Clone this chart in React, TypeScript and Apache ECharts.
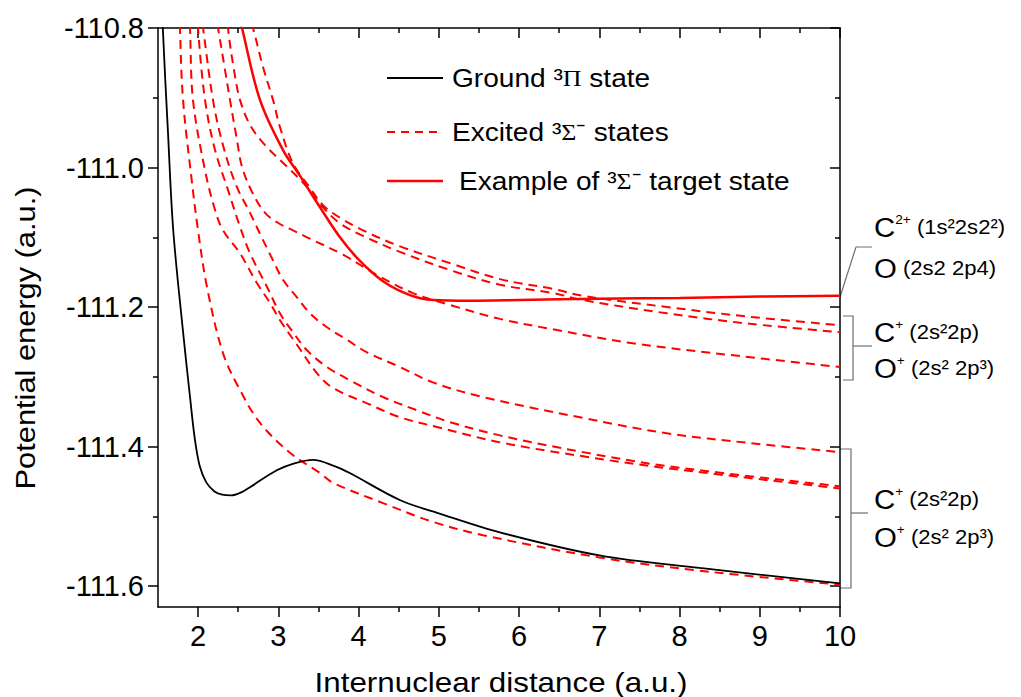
import React, { useEffect, useRef } from "react";
import * as echarts from "echarts";

// ---- tick values ----
const xMajor = [2, 3, 4, 5, 6, 7, 8, 9, 10];
const xMinor = [2.5, 3.5, 4.5, 5.5, 6.5, 7.5, 8.5, 9.5];
const yMajor = [-111.6, -111.4, -111.2, -111.0, -110.8];
const yMinor = [-111.5, -111.3, -111.1, -110.9];

// ---- ground 3Pi state ----
const groundX = [1.54, 1.56, 1.625, 1.69, 1.81, 1.9, 1.96, 2.02, 2.1, 2.2, 2.3, 2.41, 2.55, 2.65, 2.98, 3.2, 3.43, 3.7, 3.89, 4.52, 4.98, 5.76, 7.0, 8.25, 10];
const groundY = [-110.72, -110.8, -110.951, -111.09, -111.233, -111.33, -111.39, -111.428, -111.451, -111.464, -111.469, -111.47, -111.465, -111.458, -111.434, -111.424, -111.419, -111.428, -111.438, -111.477, -111.495, -111.523, -111.556, -111.574, -111.596];

// ---- example 3Sigma- target state (solid red) ----
const targetX = [2.4, 2.547, 2.771, 3.058, 3.27, 3.519, 3.768, 4.017, 4.304, 4.641, 4.927, 5.388, 6.0, 7.0, 8.0, 9.0, 10.0];
const targetY = [-110.731, -110.8, -110.903, -110.975, -111.012, -111.057, -111.1, -111.134, -111.163, -111.183, -111.19, -111.191, -111.19, -111.188, -111.187, -111.185, -111.184];

// ---- excited 3Sigma- states (dashed red) ----
const exAX = [2.51, 2.684, 2.809, 2.933, 3.02, 3.182, 3.394, 3.556, 3.768, 4.055, 4.516, 5.139, 5.762, 6.423, 6.797, 7.843, 8.878, 10];
const exAY = [-110.731, -110.8, -110.856, -110.903, -110.942, -110.994, -111.029, -111.054, -111.072, -111.09, -111.113, -111.137, -111.16, -111.174, -111.184, -111.2, -111.214, -111.226];

const exBX = [2.323, 2.372, 2.447, 2.522, 2.647, 2.834, 3.083, 3.332, 3.556, 3.768, 4.055, 4.516, 5.139, 5.762, 6.423, 6.797, 7.843, 8.878, 10];
const exBY = [-110.731, -110.8, -110.86, -110.903, -110.939, -110.968, -110.996, -111.025, -111.057, -111.08, -111.098, -111.121, -111.147, -111.168, -111.18, -111.19, -111.209, -111.224, -111.236];

const exCX = [2.148, 2.248, 2.335, 2.397, 2.485, 2.547, 2.672, 2.834, 3.02, 3.182, 3.357, 3.806, 4.229, 4.678, 5.139, 5.762, 6.473, 7.42, 8.729, 10];
const exCY = [-110.731, -110.8, -110.86, -110.903, -110.961, -110.999, -111.035, -111.065, -111.081, -111.09, -111.1, -111.125, -111.154, -111.18, -111.197, -111.217, -111.233, -111.252, -111.27, -111.286];

const exDX = [1.974, 2.061, 2.185, 2.31, 2.472, 2.647, 2.796, 2.933, 3.058, 3.232, 3.394, 3.606, 3.855, 4.105, 4.516, 4.927, 5.55, 6.797, 7.843, 8.878, 10];
const exDY = [-110.731, -110.8, -110.903, -110.968, -111.025, -111.065, -111.101, -111.133, -111.161, -111.186, -111.209, -111.229, -111.247, -111.265, -111.286, -111.308, -111.329, -111.359, -111.381, -111.395, -111.408];

const exEX = [1.974, 1.999, 2.086, 2.211, 2.372, 2.522, 2.647, 2.858, 3.02, 3.182, 3.357, 3.606, 3.893, 4.304, 4.728, 5.139, 5.762, 6.797, 7.843, 10];
const exEY = [-110.731, -110.8, -110.903, -110.975, -111.032, -111.085, -111.123, -111.171, -111.209, -111.236, -111.262, -111.286, -111.305, -111.329, -111.348, -111.365, -111.384, -111.408, -111.428, -111.457];

const exFX = [1.874, 1.899, 1.936, 2.086, 2.211, 2.31, 2.522, 2.734, 2.896, 3.02, 3.232, 3.482, 3.681, 4.105, 4.516, 5.014, 5.762, 6.797, 7.843, 10];
const exFY = [-110.731, -110.8, -110.903, -111.004, -111.061, -111.09, -111.123, -111.166, -111.194, -111.219, -111.254, -111.295, -111.316, -111.338, -111.358, -111.373, -111.394, -111.414, -111.431, -111.46];

const exGX = [1.762, 1.774, 1.812, 1.92, 1.999, 2.11, 2.31, 2.522, 2.771, 3.145, 3.519, 3.681, 4.304, 4.927, 5.55, 7.0, 8.25, 10];
const exGY = [-110.731, -110.8, -110.903, -111.018, -111.09, -111.171, -111.266, -111.319, -111.366, -111.409, -111.438, -111.452, -111.481, -111.508, -111.527, -111.559, -111.578, -111.598];

const excited = [
  [exAX, exAY],
  [exBX, exBY],
  [exCX, exCY],
  [exDX, exDY],
  [exEX, exEY],
  [exFX, exFY],
  [exGX, exGY],
];

const pairs = (xs: number[], ys: number[]) => xs.map((x, i) => [x, ys[i]]);

const FONT = "Liberation Sans, Arial, sans-serif";
const RED = "#ff0000";
const axisLine = { color: "#000", width: 1.5 };

function xAx(position: "top" | "bottom", values: number[], length: number, inside: boolean, showLine: boolean, labels: boolean) {
  return {
    type: "value",
    min: 1.5,
    max: 10,
    position,
    axisLine: { show: showLine, onZero: false, lineStyle: axisLine },
    axisTick: { show: true, customValues: values, length, inside, lineStyle: axisLine },
    axisLabel: labels
      ? { show: true, customValues: values, fontSize: 29, fontFamily: FONT, color: "#000", margin: 14 }
      : { show: false },
    splitLine: { show: false },
  };
}

function yAx(position: "left" | "right", values: number[], length: number, inside: boolean, showLine: boolean, labels: boolean) {
  return {
    type: "value",
    min: -111.63,
    max: -110.8,
    position,
    axisLine: { show: showLine, onZero: false, lineStyle: axisLine },
    axisTick: { show: true, customValues: values, length, inside, lineStyle: axisLine },
    axisLabel: labels
      ? {
          show: true,
          customValues: values,
          fontSize: 29,
          fontFamily: FONT,
          color: "#000",
          margin: 14,
          formatter: (v: number) => v.toFixed(1),
        }
      : { show: false },
    splitLine: { show: false },
  };
}

const legendRows = [
  { y: 78, x: 452, stroke: "#000", width: 2, dash: null as null | number[], text: "{t|Ground }{s|³}{g|Π}{t| state}" },
  { y: 132, x: 452, stroke: RED, width: 2, dash: [8, 6], text: "{t|Excited }{s|³}{g|Σ}{s|⁻}{t| states}" },
  { y: 181, x: 459, stroke: RED, width: 2.5, dash: null as null | number[], text: "{t|Example of }{s|³}{g|Σ}{s|⁻}{t| target state}" },
];

const annotations = [
  { y: 227, text: "{c|C}{p|2+}{t| (1s²2s2²)}" },
  { y: 268, text: "{c|O}{t| (2s2 2p4)}" },
  { y: 332, text: "{c|C}{p|+}{t| (2s²2p)}" },
  { y: 368, text: "{c|O}{p|+}{t| (2s² 2p³)}" },
  { y: 499, text: "{c|C}{p|+}{t| (2s²2p)}" },
  { y: 537, text: "{c|O}{p|+}{t| (2s² 2p³)}" },
];

const annRich = {
  c: { fontSize: 28, fontFamily: FONT, fill: "#000" },
  p: { fontSize: 13, fontFamily: FONT, fill: "#000", verticalAlign: "top" },
  t: { fontSize: 21, fontFamily: FONT, fill: "#000" },
};

const legRich = {
  t: { fontSize: 26, fontFamily: FONT, fill: "#000" },
  s: { fontSize: 26, fontFamily: FONT, fill: "#000" },
  g: { fontSize: 24, fontFamily: "Liberation Serif, Times New Roman, serif", fill: "#000" },
};

const bracketStyle = { stroke: "#6e6e6e", lineWidth: 1.2, fill: "none" };

function buildOption() {
  const series: any[] = [];
  excited.forEach(([xs, ys]) => {
    series.push({
      name: "Excited ³Σ⁻ states",
      type: "line",
      data: pairs(xs, ys),
      smooth: 0.35,
      showSymbol: false,
      symbol: "none",
      lineStyle: { color: RED, width: 2, type: [9, 6] },
      z: 2,
    });
  });
  series.push({
    name: "Example of ³Σ⁻ target state",
    type: "line",
    data: pairs(targetX, targetY),
    smooth: 0.35,
    showSymbol: false,
    symbol: "none",
    lineStyle: { color: RED, width: 2.5 },
    z: 3,
  });
  series.push({
    name: "Ground ³Π state",
    type: "line",
    data: pairs(groundX, groundY),
    smooth: 0.35,
    showSymbol: false,
    symbol: "none",
    lineStyle: { color: "#000", width: 1.8 },
    z: 4,
  });

  const graphic: any[] = [];
  legendRows.forEach((r) => {
    graphic.push({
      type: "line",
      shape: { x1: 387, y1: r.y, x2: 443, y2: r.y },
      style: { stroke: r.stroke, lineWidth: r.width, lineDash: r.dash || undefined },
    });
    graphic.push({
      type: "text",
      x: r.x,
      y: r.y,
      scaleX: 1.08,
      style: { text: r.text, rich: legRich, align: "left", verticalAlign: "middle", textAlign: "left", textVerticalAlign: "middle", fill: "#000" },
    });
  });
  annotations.forEach((a) => {
    graphic.push({
      type: "text",
      x: 874,
      y: a.y,
      scaleX: 1.05,
      style: { text: a.text, rich: annRich, align: "left", verticalAlign: "middle", textAlign: "left", textVerticalAlign: "middle", fill: "#000" },
    });
  });
  // brackets
  graphic.push({ type: "polyline", shape: { points: [[840, 297], [856, 247], [872, 247]] }, style: bracketStyle });
  graphic.push({ type: "polyline", shape: { points: [[843, 316], [853, 316], [853, 380], [843, 380]] }, style: bracketStyle });
  graphic.push({ type: "line", shape: { x1: 853, y1: 346, x2: 872, y2: 346 }, style: bracketStyle });
  graphic.push({ type: "polyline", shape: { points: [[840, 449], [851, 449], [851, 588], [840, 588]] }, style: bracketStyle });
  graphic.push({ type: "line", shape: { x1: 851, y1: 513, x2: 868, y2: 513 }, style: bracketStyle });
  // axis names
  graphic.push({
    type: "text",
    x: 25,
    y: 338,
    rotation: Math.PI / 2,
    scaleX: 1.1,
    style: { text: "Potential energy (a.u.)", fontSize: 28, fontFamily: FONT, fill: "#000", align: "center", verticalAlign: "middle", textAlign: "center", textVerticalAlign: "middle" },
  });
  graphic.push({
    type: "text",
    x: 501,
    y: 682,
    scaleX: 1.12,
    style: { text: "Internuclear distance (a.u.)", fontSize: 28, fontFamily: FONT, fill: "#000", align: "center", verticalAlign: "middle", textAlign: "center", textVerticalAlign: "middle" },
  });

  return {
    animation: false,
    backgroundColor: "#fff",
    grid: { left: 158, right: 181, top: 28, bottom: 90, containLabel: false, outerBoundsMode: "none" },
    xAxis: [
      xAx("bottom", xMajor, 10, false, true, true),
      xAx("bottom", xMinor, 5, false, false, false),
      xAx("top", xMajor, 10, true, true, false),
      xAx("top", xMinor, 5, true, false, false),
    ],
    yAxis: [
      yAx("left", yMajor, 10, false, true, true),
      yAx("left", yMinor, 5, false, false, false),
      yAx("right", yMajor, 10, true, true, false),
      yAx("right", yMinor, 5, true, false, false),
    ],
    series,
    graphic,
  };
}

export default function App() {
  const ref = useRef<HTMLDivElement>(null);
  useEffect(() => {
    if (!ref.current) return;
    const chart = echarts.init(ref.current, null, { renderer: "svg" });
    chart.setOption(buildOption() as any);
    return () => chart.dispose();
  }, []);
  return (
    <div
      ref={ref}
      style={{ position: "absolute", left: 0, top: 0, width: 1021, height: 697, background: "#fff" }}
    />
  );
}
